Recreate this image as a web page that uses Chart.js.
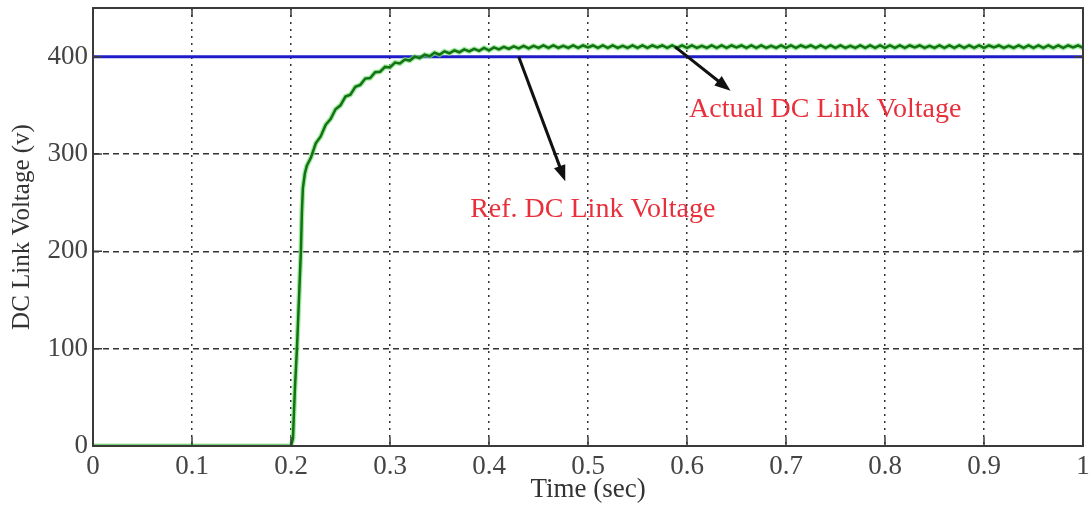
<!DOCTYPE html>
<html>
<head>
<meta charset="utf-8">
<script src="https://cdn.jsdelivr.net/npm/chart.js@4/dist/chart.umd.min.js"></script>
<style>
  body { margin: 0; background: #fff; }
  #wrap { width: 1089px; height: 507px; }
</style>
</head>
<body>
<div id="wrap"><canvas id="dcChart" width="1089" height="507"></canvas></div>
<script>
const timeSec = [
  0, 0.2, 0.201, 0.202, 0.203, 0.204, 0.205, 0.206, 0.207, 0.208,
  0.209, 0.21, 0.211, 0.212, 0.214, 0.216, 0.218, 0.22,
  0.225, 0.23, 0.235, 0.24, 0.245, 0.25, 0.255, 0.26, 0.265, 0.27,
  0.275, 0.28, 0.285, 0.29, 0.295, 0.3, 0.305, 0.31, 0.315, 0.32,
  0.325, 0.33, 0.335, 0.34, 0.345, 0.35, 0.355, 0.36, 0.365, 0.37,
  0.375, 0.38, 0.385, 0.39, 0.395, 0.4, 0.405, 0.41, 0.415, 0.42,
  0.425, 0.43, 0.435, 0.44, 0.445, 0.45,
  0.455, 0.46, 0.465, 0.47, 0.475, 0.48, 0.485, 0.49, 0.495, 0.5,
  0.505, 0.51, 0.515, 0.52, 0.525, 0.53, 0.535, 0.54, 0.545, 0.55,
  0.555, 0.56, 0.565, 0.57, 0.575, 0.58, 0.585, 0.59, 0.595, 0.6,
  0.605, 0.61, 0.615, 0.62, 0.625, 0.63, 0.635, 0.64, 0.645, 0.65,
  0.655, 0.66, 0.665, 0.67, 0.675, 0.68, 0.685, 0.69, 0.695, 0.7,
  0.705, 0.71, 0.715, 0.72, 0.725, 0.73, 0.735, 0.74, 0.745, 0.75,
  0.755, 0.76, 0.765, 0.77, 0.775, 0.78, 0.785, 0.79, 0.795, 0.8,
  0.805, 0.81, 0.815, 0.82, 0.825, 0.83, 0.835, 0.84, 0.845, 0.85,
  0.855, 0.86, 0.865, 0.87, 0.875, 0.88, 0.885, 0.89, 0.895, 0.9,
  0.905, 0.91, 0.915, 0.92, 0.925, 0.93, 0.935, 0.94, 0.945, 0.95,
  0.955, 0.96, 0.965, 0.97, 0.975, 0.98, 0.985, 0.99, 0.995, 1.0
];
const actualV = [
  0, 0, 0, 8, 35, 60, 80, 100, 125, 150,
  175, 200, 240, 265, 280, 288, 292, 296,
  311, 318, 330, 336, 346, 350, 359, 361, 369, 371,
  377.5, 378, 384, 384.5, 389.5, 389, 394, 393, 397, 396,
  400, 398.5, 402, 400.5, 404, 402, 405.5, 403.5, 406.5, 404.5,
  407.5, 405.5, 408, 406, 409, 406.5, 409.5, 407.5, 410, 408,
  410.5, 408.5, 411, 408.5, 411, 409,
  411.5, 409, 411.5, 409, 411, 409, 411.5, 409, 411.5, 409.5,
  411.5, 409, 411.5, 409, 411.5, 409, 411, 409, 411.5, 409,
  411.5, 409, 411.5, 409.5, 411.5, 409, 411.5, 409, 411.5, 409,
  411.5, 409, 411, 409, 411.5, 409, 411.5, 409, 411.5, 409.5,
  411.5, 409, 411.5, 409, 411.5, 409, 411, 409, 411.5, 409,
  411.5, 409, 411.5, 409.5, 411.5, 409, 411.5, 409, 411.5, 409,
  411.5, 409, 411, 409, 411.5, 409, 411.5, 409, 411.5, 409,
  411.5, 409, 411.5, 409, 411.5, 409.5, 411.5, 409, 411, 409,
  411.5, 409, 411.5, 409, 411.5, 409, 411.5, 409, 411.5, 409,
  411.5, 409.5, 411.5, 409, 411, 409, 411.5, 409, 411.5, 409,
  411.5, 409, 411.5, 409, 411.5, 409, 411.5, 409.5, 411.5, 409
];
const refTime = [0, 1];
const refV = [400, 400];
const yTicks = [0, 100, 200, 300, 400];

const serif = "'Liberation Serif', 'Times New Roman', serif";
const tickColor = "#3a3a3a";

const actualPoints = timeSec.map((t, i) => ({ x: t, y: actualV[i] }));
const refPoints = refTime.map((t, i) => ({ x: t, y: refV[i] }));

// annotations: arrow from a point on a curve to near the label
const notes = [
  { text: "Ref. DC Link Voltage", from: [0.43, 400], to: [0.477, 272], at: [0.381, 243] },
  { text: "Actual DC Link Voltage", from: [0.588, 410], to: [0.644, 365], at: [0.602, 346] }
];

// MATLAB style box with inward ticks, and the arrows / red labels
const boxPlugin = {
  id: "boxPlugin",
  afterDatasetsDraw(chart) {
    const { ctx, chartArea: a, scales } = chart;
    ctx.save();
    ctx.strokeStyle = tickColor;
    ctx.lineWidth = 2;
    ctx.strokeRect(a.left, a.top, a.right - a.left, a.bottom - a.top);
    ctx.lineWidth = 1.5;
    const len = 9;
    scales.x.ticks.forEach((t) => {
      const px = scales.x.getPixelForValue(t.value);
      ctx.beginPath();
      ctx.moveTo(px, a.bottom); ctx.lineTo(px, a.bottom - len);
      ctx.moveTo(px, a.top); ctx.lineTo(px, a.top + len);
      ctx.stroke();
    });
    scales.y.ticks.forEach((t) => {
      const py = scales.y.getPixelForValue(t.value);
      ctx.beginPath();
      ctx.moveTo(a.left, py); ctx.lineTo(a.left + len, py);
      ctx.moveTo(a.right, py); ctx.lineTo(a.right - len, py);
      ctx.stroke();
    });

    notes.forEach((n) => {
      const x1 = scales.x.getPixelForValue(n.from[0]);
      const y1 = scales.y.getPixelForValue(n.from[1]);
      const x2 = scales.x.getPixelForValue(n.to[0]);
      const y2 = scales.y.getPixelForValue(n.to[1]);
      const ang = Math.atan2(y2 - y1, x2 - x1);
      ctx.strokeStyle = "#111";
      ctx.fillStyle = "#111";
      ctx.lineWidth = 3;
      ctx.beginPath();
      ctx.moveTo(x1, y1);
      ctx.lineTo(x2 - 10 * Math.cos(ang), y2 - 10 * Math.sin(ang));
      ctx.stroke();
      ctx.beginPath();
      ctx.moveTo(x2, y2);
      ctx.lineTo(x2 - 16 * Math.cos(ang) + 6 * Math.sin(ang), y2 - 16 * Math.sin(ang) - 6 * Math.cos(ang));
      ctx.lineTo(x2 - 16 * Math.cos(ang) - 6 * Math.sin(ang), y2 - 16 * Math.sin(ang) + 6 * Math.cos(ang));
      ctx.closePath();
      ctx.fill();

      ctx.fillStyle = "#e8303c";
      ctx.font = "28px " + serif;
      ctx.textBaseline = "middle";
      ctx.textAlign = "left";
      ctx.fillText(n.text, scales.x.getPixelForValue(n.at[0]), scales.y.getPixelForValue(n.at[1]));
    });
    ctx.restore();
  }
};

new Chart(document.getElementById("dcChart"), {
  type: "line",
  data: {
    datasets: [
      {
        label: "Ref. DC Link Voltage",
        data: refPoints,
        borderColor: "#1c1cc8",
        borderWidth: 3,
        pointRadius: 0,
        tension: 0,
        order: 3
      },
      {
        label: "Actual halo",
        data: actualPoints,
        borderColor: "rgba(120, 225, 120, 0.7)",
        borderWidth: 5,
        pointRadius: 0,
        tension: 0,
        order: 2
      },
      {
        label: "Actual DC Link Voltage",
        data: actualPoints,
        borderColor: "#137313",
        borderWidth: 2.5,
        pointRadius: 0,
        tension: 0,
        order: 1
      }
    ]
  },
  options: {
    responsive: false,
    animation: false,
    layout: { padding: { top: 8, right: 6, left: 0, bottom: 0 } },
    plugins: {
      legend: { display: false },
      tooltip: { enabled: false }
    },
    scales: {
      x: {
        type: "linear",
        min: 0,
        max: 1,
        afterFit(s) { s.height = 61; s.paddingLeft = 0; s.paddingRight = 0; },
        ticks: {
          stepSize: 0.1,
          padding: 5,
          color: "#444",
          font: { family: serif, size: 27 },
          maxRotation: 0,
          callback: (v) => (v === 0 || v === 1 ? String(v) : v.toFixed(1))
        },
        grid: { color: "#333", lineWidth: 1.5, drawTicks: false },
        border: { display: false, dash: [2, 5] },
        title: {
          display: true,
          text: "Time (sec)",
          color: "#333",
          font: { family: serif, size: 27 },
          padding: { top: 0, bottom: 1 }
        }
      },
      y: {
        min: 0,
        max: 450,
        afterFit(s) { s.width = 93; s.paddingTop = 0; s.paddingBottom = 0; },
        afterBuildTicks(s) { s.ticks = yTicks.map((v) => ({ value: v })); },
        ticks: {
          padding: 5,
          color: "#444",
          font: { family: serif, size: 27 }
        },
        grid: { color: "#333", lineWidth: 1.5, drawTicks: false },
        border: { display: false, dash: [6, 4] },
        title: {
          display: true,
          text: "DC Link Voltage (v)",
          color: "#333",
          font: { family: serif, size: 25 },
          padding: { top: 7, bottom: 0 }
        }
      }
    }
  },
  plugins: [boxPlugin]
});
</script>
</body>
</html>
